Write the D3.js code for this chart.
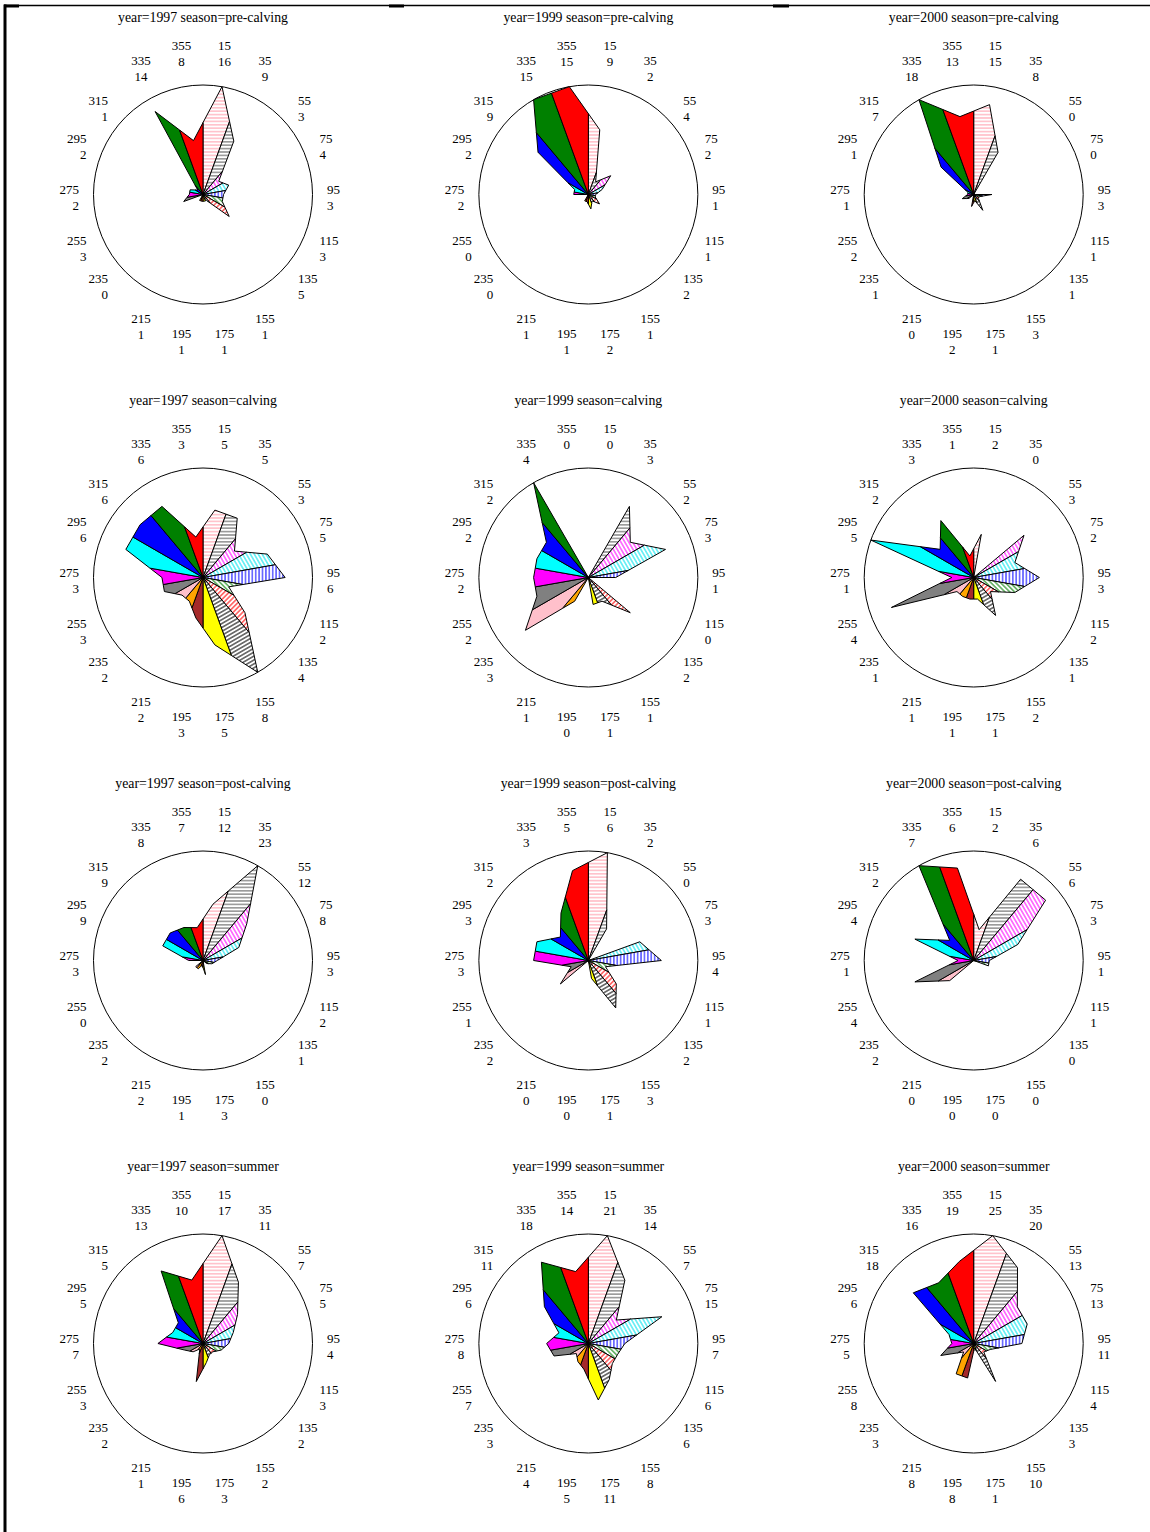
<!DOCTYPE html>
<html>
<head>
<meta charset="utf-8">
<script src="https://cdn.jsdelivr.net/npm/d3@7"></script>
<style>
  body { margin: 0; background: #fff; }
  svg { display: block; }
  text { font-family: "Liberation Serif", "Times New Roman", serif; font-size: 13px; fill: #000; }
  text.title { font-size: 13.8px; }
</style>
</head>
<body>
<svg id="chart" width="1150" height="1532"></svg>
<script>
// Direction bins (degrees), clockwise from north
const directions = ["15", "35", "55", "75", "95", "115", "135", "155", "175",
                    "195", "215", "235", "255", "275", "295", "315", "335", "355"];
const years = ["1997", "1999", "2000"];
const seasons = ["pre-calving", "calving", "post-calving", "summer"];

// Counts per direction bin, one array per year/season
const preCalving1997  = [16, 9, 3, 4, 3, 3, 5, 1, 1, 1, 1, 0, 3, 2, 2, 1, 14, 8];
const preCalving1999  = [9, 2, 4, 2, 1, 1, 2, 1, 2, 1, 1, 0, 0, 2, 2, 9, 15, 15];
const preCalving2000  = [15, 8, 0, 0, 3, 1, 1, 3, 1, 2, 0, 1, 2, 1, 1, 7, 18, 13];
const calving1997     = [5, 5, 3, 5, 6, 2, 4, 8, 5, 3, 2, 2, 3, 3, 6, 6, 6, 3];
const calving1999     = [0, 3, 2, 3, 1, 0, 2, 1, 1, 0, 1, 3, 2, 2, 2, 2, 4, 0];
const calving2000     = [2, 0, 3, 2, 3, 2, 1, 2, 1, 1, 1, 1, 4, 1, 5, 2, 3, 1];
const postCalving1997 = [12, 23, 12, 8, 3, 2, 1, 0, 3, 1, 2, 2, 0, 3, 9, 9, 8, 7];
const postCalving1999 = [6, 2, 0, 3, 4, 1, 2, 3, 1, 0, 0, 2, 1, 3, 3, 2, 3, 5];
const postCalving2000 = [2, 6, 6, 3, 1, 1, 0, 0, 0, 0, 0, 2, 4, 1, 4, 2, 7, 6];
const summer1997      = [17, 11, 7, 5, 4, 3, 2, 2, 3, 6, 1, 2, 3, 7, 5, 5, 13, 10];
const summer1999      = [21, 14, 7, 15, 7, 6, 6, 8, 11, 5, 4, 3, 7, 8, 6, 11, 18, 14];
const summer2000      = [25, 20, 13, 13, 11, 4, 3, 10, 1, 8, 8, 3, 8, 5, 6, 18, 16, 19];

const countsBySeason = {
  "pre-calving":  [preCalving1997, preCalving1999, preCalving2000],
  "calving":      [calving1997, calving1999, calving2000],
  "post-calving": [postCalving1997, postCalving1999, postCalving2000],
  "summer":       [summer1997, summer1999, summer2000]
};

// Fill for each direction bin: hatched (color, angle) or solid
const sectorFills = [
  { hatch: "#ff9aa8", rot: 0 },
  { hatch: "#555555", rot: 0 },
  { hatch: "#ff00ff", rot: 60 },
  { hatch: "#00e5ee", rot: 60 },
  { hatch: "#0000ff", rot: 90 },
  { hatch: "#008000", rot: 45 },
  { hatch: "#ff0000", rot: -45 },
  { hatch: "#000000", rot: -30 },
  { solid: "#ffff00" },
  { solid: "#a52a2a" },
  { solid: "#ffa500" },
  { solid: "#ffc0cb" },
  { solid: "#808080" },
  { solid: "#ff00ff" },
  { solid: "#00ffff" },
  { solid: "#0000ff" },
  { solid: "#008000" },
  { solid: "#ff0000" }
];

const svg = d3.select("#chart");
const W = 1150, H = 1532;

// Hatch patterns
const defs = svg.append("defs");
sectorFills.forEach((f, i) => {
  if (!f.hatch) return;
  const p = defs.append("pattern")
    .attr("id", "hatch" + i)
    .attr("patternUnits", "userSpaceOnUse")
    .attr("width", 4).attr("height", 3.4)
    .attr("patternTransform", `rotate(${f.rot})`);
  p.append("rect").attr("width", 4).attr("height", 3.4).attr("fill", "#fff");
  p.append("line").attr("x1", 0).attr("x2", 4).attr("y1", 1.7).attr("y2", 1.7)
    .attr("stroke", f.hatch).attr("stroke-width", 1);
});
const fillOf = i => sectorFills[i].solid || `url(#hatch${i})`;

// Page frame
svg.append("line").attr("x1", 4).attr("x2", W).attr("y1", 5.5).attr("y2", 5.5)
  .attr("stroke", "#000").attr("stroke-width", 1.5);
[[4, 19], [389, 404], [773, 789]].forEach(([a, b]) => {
  svg.append("line").attr("x1", a).attr("x2", b).attr("y1", 6).attr("y2", 6)
    .attr("stroke", "#000").attr("stroke-width", 3);
});
svg.append("line").attr("x1", 5).attr("x2", 5).attr("y1", 4.5).attr("y2", H)
  .attr("stroke", "#000").attr("stroke-width", 3);

// Panel grid
const colX = d3.scaleLinear().domain([0, 2]).range([203, 973.7]);
const rowY = d3.scaleLinear().domain([0, 3]).range([194.5, 1343.5]);
const R = 109.5;

// Angular position of each bin (degrees)
const angle = d3.scaleBand().domain(directions).range([0, 360]).padding(0);
const half = angle.bandwidth() / 2;
const rad = d => d * Math.PI / 180;
const pt = (a, r) => [r * Math.sin(rad(a)), -r * Math.cos(rad(a))];

seasons.forEach((season, ri) => {
  years.forEach((year, ci) => {
    const counts = countsBySeason[season][ci];
    const cx = colX(ci), cy = rowY(ri);
    const g = svg.append("g").attr("transform", `translate(${cx},${cy})`);

    const r = d3.scaleLinear().domain([0, d3.max(counts)]).range([0, R]);
    const n = counts.length;
    // Radius where the star outline crosses a bin boundary ray
    const edgeR = (r1, r2) => (r1 + r2 === 0) ? 0
      : 2 * r1 * r2 * Math.cos(rad(half)) / (r1 + r2);

    g.append("text").attr("class", "title")
      .attr("x", 0).attr("y", -177.5).attr("dy", "0.35em")
      .attr("text-anchor", "middle")
      .text(`year=${year} season=${season}`);

    g.append("circle").attr("r", R).attr("fill", "none")
      .attr("stroke", "#000").attr("stroke-width", 1);

    const sectors = directions.map((d, i) => {
      const a0 = angle(d), a1 = a0 + angle.bandwidth(), am = a0 + half;
      const rv = r(counts[i]);
      const rPrev = r(counts[(i - 1 + n) % n]);
      const rNext = r(counts[(i + 1) % n]);
      return {
        i,
        poly: [[0, 0], pt(a0, edgeR(rPrev, rv)), pt(am, rv), pt(a1, edgeR(rv, rNext))]
      };
    });

    g.selectAll("path.sector").data(sectors).join("path")
      .attr("class", "sector")
      .attr("d", s => "M" + s.poly.map(p => p.join(",")).join("L") + "Z")
      .attr("fill", s => fillOf(s.i))
      .attr("stroke", "#000").attr("stroke-width", 1)
      .attr("stroke-linejoin", "round");

    // Direction / count labels round the circle
    const labels = g.selectAll("g.lab").data(directions).join("g").attr("class", "lab");
    labels.each(function (d, i) {
      const a = angle(d) + half;
      const s = Math.sin(rad(a)), c = Math.cos(rad(a));
      const side = Math.abs(s) > 0.6;
      const rho = side ? 125 : 130, k = side ? 8.5 : 16;
      const sgn = Math.abs(c) < 0.01 ? 0 : Math.sign(c);
      const x = 124 * s;
      const y = 3 - rho * c - sgn * k;
      const anchor = side ? (s > 0 ? "start" : "end") : "middle";
      const sel = d3.select(this);
      sel.append("text").attr("x", x).attr("y", y - 8).attr("dy", "0.35em")
        .attr("text-anchor", anchor).text(d);
      sel.append("text").attr("x", x).attr("y", y + 8).attr("dy", "0.35em")
        .attr("text-anchor", anchor).text(counts[i]);
    });
  });
});
</script>
</body>
</html>
